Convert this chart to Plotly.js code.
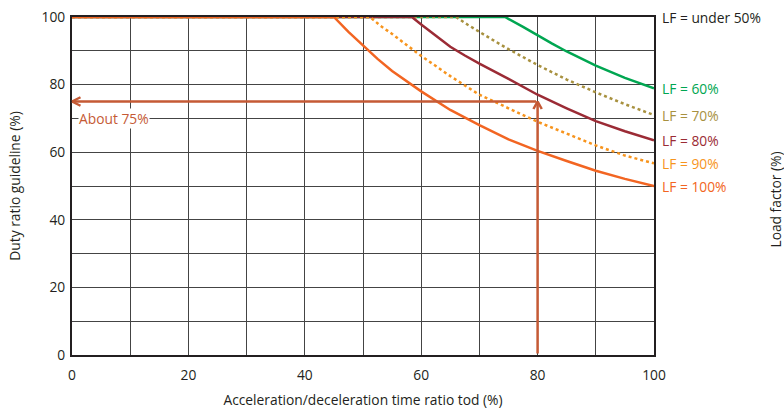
<!DOCTYPE html>
<html>
<head>
<meta charset="utf-8">
<script src="https://cdn.plot.ly/plotly-3.0.1.min.js"></script>
<style>html,body{margin:0;padding:0;background:#fff;}#chart{width:784px;height:409px;}</style>
</head>
<body>
<div id="chart"></div>
<script>
// Acceleration/deceleration time ratio (x) vs duty ratio guideline (y) per load factor
const lf60X  = [0, 74.4, 77.5, 80, 82.5, 85, 90, 95, 100];
const lf60Y  = [100, 100, 97.1, 94.5, 92.1, 89.8, 85.6, 82, 78.9];
const lf70X  = [0, 66, 68, 70, 72.5, 75, 80, 85, 90, 95, 100];
const lf70Y  = [100, 100, 97.7, 95.5, 93, 90.5, 85.8, 81.5, 77.7, 74.2, 71];
const lf80X  = [0, 58.4, 60, 62.5, 65, 67.5, 70, 75, 80, 85, 90, 95, 100];
const lf80Y  = [100, 100, 97.8, 94.4, 91.2, 88.6, 86.2, 81.7, 77, 73, 69.2, 66.2, 63.5];
const lf90X  = [0, 51.2, 53, 55, 57.5, 60, 65, 70, 75, 80, 85, 90, 95, 100];
const lf90Y  = [100, 100, 97.4, 95, 91.7, 88.5, 82.5, 77, 73, 69, 65.5, 62, 59, 56.7];
const lf100X = [0, 45, 47.5, 50, 52.5, 55, 60, 65, 70, 75, 80, 85, 90, 95, 100];
const lf100Y = [100, 100, 95.6, 91.5, 87.6, 84, 78, 72.5, 68, 63.8, 60.4, 57.4, 54.5, 52.1, 50];

const seriesNames = ['LF = 60%', 'LF = 70%', 'LF = 80%', 'LF = 90%', 'LF = 100%'];
const underLabel = 'LF = under 50%';
const exampleX = 80;   // example read-off: tod = 80%
const exampleY = 75;   // about 75%
const exampleText = 'About 75%';

const colors = ['#00a651', '#a8913f', '#9b2b35', '#f7941d', '#f26522'];
const arrowColor = '#c55a35';
const textColor = '#231f20';
const font = 'Open Sans, Noto Sans, sans-serif';
const fs = 13.8;

const xs = [lf60X, lf70X, lf80X, lf90X, lf100X];
const ys = [lf60Y, lf70Y, lf80Y, lf90Y, lf100Y];
const dashes = ['solid', '3px,3px', 'solid', '3px,3px', 'solid'];

const traces = xs.map((x, i) => ({
  x: x, y: ys[i], type: 'scatter', mode: 'lines', name: seriesNames[i],
  line: {color: colors[i], width: 2.5, dash: dashes[i], shape: 'linear'},
  cliponaxis: false, hoverinfo: 'skip'
}));

const annotations = [];
// right-side labels at curve ends
ys.forEach((y, i) => {
  annotations.push({xref: 'paper', x: 1, xshift: 6, xanchor: 'left', yref: 'y', y: y[y.length - 1],
    yanchor: 'middle', text: seriesNames[i], showarrow: false, font: {family: font, size: fs, color: colors[i]}});
});
annotations.push({xref: 'paper', x: 1, xshift: 6, xanchor: 'left', yref: 'y', y: 100, yanchor: 'middle',
  text: underLabel, showarrow: false, font: {family: font, size: fs, color: textColor}});
// right axis title
annotations.push({xref: 'paper', x: 1.208, xanchor: 'center', yref: 'paper', y: 0.46, yanchor: 'middle',
  text: 'Load factor (%)', textangle: -90, showarrow: false, font: {family: font, size: fs, color: textColor}});

// arrow shafts (line only) and open chevron heads built from arm strokes
const arrowBase = {xref: 'x', yref: 'y', text: '', showarrow: true, arrowhead: 0, arrowwidth: 2.5,
  arrowcolor: arrowColor, standoff: 0, startstandoff: 0};
annotations.push(Object.assign({}, arrowBase, {x: 0, y: exampleY, axref: 'x', ayref: 'y', ax: exampleX, ay: exampleY}));
annotations.push(Object.assign({}, arrowBase, {x: exampleX, y: exampleY, axref: 'x', ayref: 'y', ax: exampleX, ay: 0}));
// left head arms
[-5, 5].forEach(d => annotations.push(Object.assign({}, arrowBase, {x: 0, y: exampleY, ax: 10, ay: d})));
// up head arms
[-5, 5].forEach(d => annotations.push(Object.assign({}, arrowBase, {x: exampleX, y: exampleY, ax: d, ay: 9})));

annotations.push({x: 1, xanchor: 'left', y: 70, yanchor: 'middle', xref: 'x', yref: 'y', text: exampleText,
  showarrow: false, bgcolor: '#ffffff', borderpad: 0, font: {family: font, size: fs, color: arrowColor}});

const axisCommon = {
  range: [0, 100], showgrid: true, gridcolor: '#444444', gridwidth: 1,
  showline: true, linecolor: textColor, linewidth: 2, mirror: true, zeroline: false,
  ticks: '', tickfont: {family: font, size: fs, color: textColor}, layer: 'below traces', fixedrange: true,
  tickvals: [0, 20, 40, 60, 80, 100], ticktext: ['0', '20', '40', '60', '80', '100'],
  minor: {dtick: 10, showgrid: true, gridcolor: '#444444', gridwidth: 1, ticks: ''}
};

const layout = {
  width: 784, height: 409,
  margin: {l: 72, r: 130, t: 17, b: 54},
  paper_bgcolor: '#ffffff', plot_bgcolor: '#ffffff',
  showlegend: false,
  font: {family: font, color: textColor},
  xaxis: Object.assign({}, axisCommon, {
    ticklabelstandoff: 6,
    title: {text: 'Acceleration/deceleration time ratio tod (%)', font: {family: font, size: fs, color: textColor}, standoff: 19}
  }),
  yaxis: Object.assign({}, axisCommon, {
    ticklabelstandoff: 2,
    title: {text: 'Duty ratio guideline (%)', font: {family: font, size: fs, color: textColor}, standoff: 18}
  }),
  annotations: annotations
};

Plotly.newPlot('chart', traces, layout, {staticPlot: true, displayModeBar: false});
</script>
</body>
</html>
